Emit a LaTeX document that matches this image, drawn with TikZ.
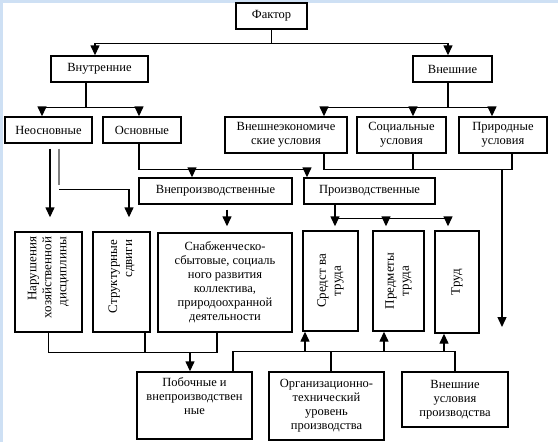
\documentclass[tikz,border=0pt]{standalone}
\usepackage{fontspec}
\setmainfont{Liberation Serif}
\usetikzlibrary{arrows.meta, calc}
\definecolor{edgeblue}{RGB}{206,224,244}

\begin{document}
\begin{tikzpicture}[x=1pt, y=-1pt]
        % Styles
        \tikzstyle{box} = [draw, line width=1.4pt, fill=white, inner sep=2pt, align=center, font=\fontsize{12.5}{14}\selectfont]
        \tikzstyle{txt} = [inner sep=0pt, align=center, font=\fontsize{12.5}{14}\selectfont]
        \tikzstyle{vtxt} = [txt, rotate=90, font=\fontsize{13}{15}\selectfont]
        \tikzstyle{line} = [draw, line width=1.4pt, black]
        \tikzstyle{arr} = [line, -{Triangle[width=9pt, length=10pt]}]

        % Frame
        \useasboundingbox (0,0) rectangle (558,442);
        \fill[white] (0,0) rectangle (558,442);
        \fill[edgeblue] (0,0) rectangle (558,3);
        \fill[edgeblue] (0,0) rectangle (3,442);

        % Top levels
        \node[box, minimum width=71, minimum height=26] (factor) at (271.5,16) {Фактор};
        \node[box, minimum width=97, minimum height=26] (vnutr) at (99.5,69) {Внутренние};
        \node[box, minimum width=79, minimum height=26] (vneshn) at (452.5,69) {Внешние};

        \node[box, minimum width=87, minimum height=26] (neosn) at (48.5,130) {Неосновные};
        \node[box, minimum width=78, minimum height=26] (osn) at (142,130) {Основные};
        \node[box, minimum width=122, minimum height=36] (vneco) at (286,135) {Внешнеэкономиче\\ские условия};
        \node[box, minimum width=89, minimum height=36] (social) at (401.5,135) {Социальные\\условия};
        \node[box, minimum width=88, minimum height=36] (prirod) at (503,135) {Природные\\условия};

        \node[box, minimum width=153, minimum height=26] (vnepr) at (215.5,191) {Внепроизводственные};
        \node[box, minimum width=131, minimum height=26] (proizv) at (369.5,191) {Производственные};

        % Tall boxes
        \node[box, minimum width=67, minimum height=100] (narush) at (48.5,282) {};
        \node[vtxt, text width=90pt, align=right] (narushtext) at (narush) {Нарушения\\хозяйственной\\дисциплины};
        \node[box, minimum width=57, minimum height=100] (strukt) at (121.5,282) {};
        \node[vtxt, text width=84pt, align=right] (strukttext) at (strukt) {Структурные\\сдвиги};
        \node[box, minimum width=134, minimum height=99] (snab) at (225,282.5) {Снабженческо-\\сбытовые, социаль\\ного развития\\коллектива,\\природоохранной\\деятельности};
        \node[box, minimum width=55, minimum height=100] (sredst) at (330.5,281) {};
        \node[vtxt] (sredsttext) at (sredst) {Средст ва\\труда};
        \node[box, minimum width=51, minimum height=100] (predm) at (398.5,281) {};
        \node[vtxt] (predmtext) at (predm) {Предметы\\труда};
        \node[box, minimum width=44, minimum height=102] (trud) at (457,282) {};
        \node[vtxt] (trudtext) at (trud) {Труд};

        % Bottom row
        \node[box, minimum width=115, minimum height=67] (poboch) at (194.5,405.5) {};
        \node[txt, anchor=north] (pobochtext) at ([yshift=-6pt]poboch.north) {Побочные и\\внепроизводствен\\ные};
        \node[box, minimum width=115, minimum height=68] (orgtech) at (326.5,406) {Организационно-\\технический\\уровень\\производства};
        \node[box, minimum width=106, minimum height=55] (vnusl) at (455,399.5) {Внешние\\условия\\производства};

        % Factor -> internal / external
        \draw[line] (factor.south) -- ++(0,14) coordinate (fbus);
        \draw[arr] (fbus) -| ([xshift=-4.5pt]vnutr.north);
        \draw[arr] (fbus) -| ([xshift=-4.5pt]vneshn.north);

        \draw[line] ([xshift=-13.5pt]vnutr.south) -- ++(0,25) coordinate (vbus);
        \draw[arr] (vbus) -| ([xshift=-6.5pt]neosn.north);
        \draw[arr] (vbus) -| ([xshift=-3pt]osn.north);

        \draw[line] ([xshift=-4.5pt]vneshn.south) -- ++(0,25) coordinate (nbus);
        \draw[arr] (nbus) -| ([xshift=38pt]vneco.north);
        \draw[arr] (nbus) -| ([xshift=11.5pt]social.north);
        \draw[arr] (nbus) -| ([xshift=-11pt]prirod.north);

        % External conditions
        \coordinate (e2) at ([xshift=11.5pt]social.south);
        \coordinate (e3) at ([xshift=9pt]prirod.south);
        \coordinate (eend) at (502,327);
        \draw[line] ([xshift=38pt]vneco.south) -- ++(0,16) coordinate (ebus) -| (e3);
        \draw[line] (e2) -- (e2 |- ebus);
        \draw[arr] (eend |- ebus) -- (eend);

        % Osnovnye
        \draw[line] ([xshift=-3pt]osn.south) -- ++(0,26) coordinate (obus);
        \draw[arr] (obus) -| ([xshift=-23.5pt]vnepr.north);
        \draw[arr] (obus) -| ([xshift=-62.5pt]proizv.north);

        % Neosnovnye
        \draw[arr] ([xshift=1.5pt, yshift=-5pt]neosn.south) -- ([xshift=1.5pt, yshift=14pt]narush.north);
        \draw[line, gray] ([xshift=10.5pt, yshift=-5pt]neosn.south) -- ++(0,36);
        \draw[arr] ([xshift=10.5pt, yshift=-46pt]neosn.south) -| ([xshift=7.5pt, yshift=14pt]strukt.north);

        % Vneproizvodstvennye / Proizvodstvennye
        \draw[arr] ([xshift=11.5pt, yshift=-5pt]vnepr.south) -- ([xshift=2pt, yshift=6pt]snab.north);
        \draw[line] ([xshift=-34.5pt]proizv.south) -- ++(0,14) coordinate (pbus);
        \draw[arr] (pbus) -| ([xshift=4.5pt, yshift=4pt]sredst.north);
        \draw[arr] (pbus) -| ([xshift=-12.5pt, yshift=4pt]predm.north);
        \draw[arr] (pbus) -| ([xshift=-9pt, yshift=4pt]trud.north);

        % Left bottom
        \coordinate (l2) at ([xshift=23.5pt]strukt.south);
        \coordinate (l3) at ([xshift=-8pt]snab.south);
        \coordinate (b1) at ([xshift=-4.5pt]poboch.north);
        \draw[line] (narush.south) -- ++(0,20) coordinate (lbus) -| (l3);
        \draw[line] (l2) -- (l2 |- lbus);
        \draw[arr] (b1 |- lbus) -- (b1);

        % Right bottom
        \coordinate (r1) at ([xshift=-25.5pt]sredst.south);
        \coordinate (r2) at ([xshift=-14.5pt]predm.south);
        \coordinate (r3) at ([xshift=-13pt]trud.south);
        \draw[line] ([xshift=38.5pt]poboch.north) -- ++(0,-20) coordinate (rbus) -| (vnusl.north);
        \draw[line] ([xshift=4.5pt]orgtech.north) -- ++(0,-20);
        \draw[arr] (r1 |- rbus) -- (r1);
        \draw[arr] (r2 |- rbus) -- (r2);
        \draw[arr] (r3 |- rbus) -- (r3);

    \end{tikzpicture}
\end{document}
